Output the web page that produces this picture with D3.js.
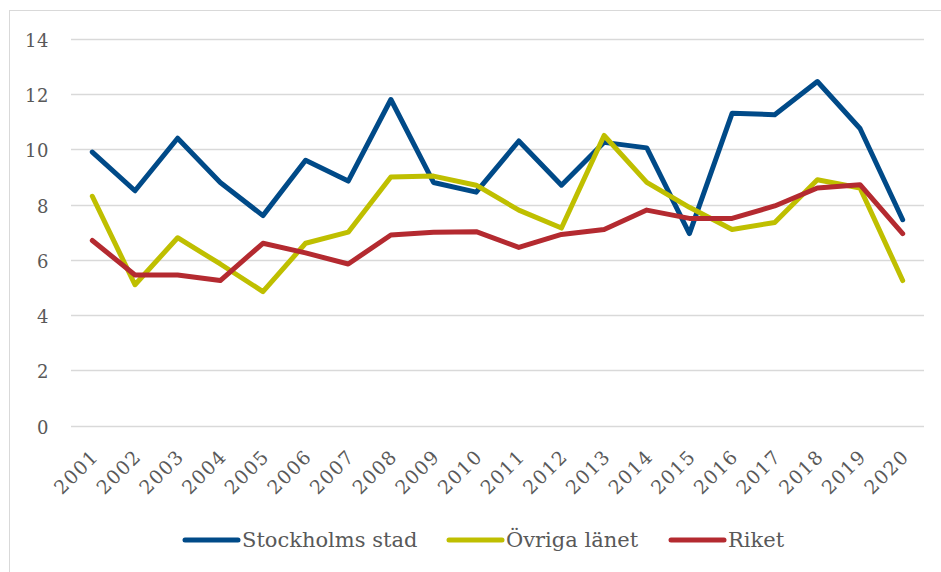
<!DOCTYPE html>
<html>
<head>
<meta charset="utf-8">
<script src="https://cdn.jsdelivr.net/npm/d3@7"></script>
<style>
  html, body { margin: 0; padding: 0; background: #fff; }
  svg { display: block; }
  text { font-family: Georgia, "DejaVu Serif", serif; fill: #595959; }
</style>
</head>
<body>
<svg id="chart" width="941" height="572"></svg>
<script>
const years = ["2001","2002","2003","2004","2005","2006","2007","2008","2009","2010",
               "2011","2012","2013","2014","2015","2016","2017","2018","2019","2020"];
const stockholmsStad = [9.9, 8.5, 10.4, 8.8, 7.6, 9.6, 8.85, 11.8, 8.8, 8.45,
                        10.3, 8.7, 10.25, 10.05, 6.95, 11.3, 11.25, 12.45, 10.75, 7.45];
const ovrigaLanet    = [8.3, 5.1, 6.8, 5.85, 4.85, 6.6, 7.0, 9.0, 9.03, 8.7,
                        7.8, 7.15, 10.5, 8.8, 7.9, 7.1, 7.35, 8.9, 8.6, 5.25];
const riket          = [6.7, 5.45, 5.45, 5.25, 6.6, 6.25, 5.85, 6.9, 7.0, 7.02,
                        6.45, 6.92, 7.1, 7.8, 7.5, 7.5, 7.95, 8.6, 8.72, 6.95];
const yTicks = [0, 2, 4, 6, 8, 10, 12, 14];
const seriesNames = ["Stockholms stad", "Övriga länet", "Riket"];
const seriesColors = ["#004a88", "#bfbf00", "#b42a30"];

const series = [stockholmsStad, ovrigaLanet, riket].map((values, i) => ({
  name: seriesNames[i], color: seriesColors[i], values
}));

const svg = d3.select("#chart");

// chart frame
svg.append("rect")
  .attr("x", 9.5).attr("y", 10.5)
  .attr("width", 960).attr("height", 600)
  .attr("fill", "none").attr("stroke", "#d9d9d9").attr("stroke-width", 1);

const plot = { left: 71, right: 924, top: 38.7, bottom: 425.7 };

const x = d3.scalePoint().domain(years)
  .range([plot.left, plot.right]).padding(0.5);
const y = d3.scaleLinear().domain([0, 14]).range([plot.bottom, plot.top]);

// horizontal gridlines
svg.append("g")
  .selectAll("line").data(yTicks).join("line")
  .attr("x1", plot.left).attr("x2", plot.right)
  .attr("y1", d => Math.round(y(d)) + 0.5).attr("y2", d => Math.round(y(d)) + 0.5)
  .attr("stroke", "#d9d9d9").attr("stroke-width", 1.3);

// y axis labels
const yAxis = d3.axisLeft(y).tickValues(yTicks).tickSize(0).tickPadding(0);
const gy = svg.append("g").attr("transform", `translate(${49},0)`).call(yAxis);
gy.select(".domain").remove();
gy.selectAll("text")
  .style("font-family", "Georgia, 'DejaVu Serif', serif")
  .style("font-size", "18px").style("fill", "#595959")
  .style("letter-spacing", "0.5px")
  .attr("dy", "0.42em");

// x axis labels, rotated
const xAxis = d3.axisBottom(x).tickSize(0).tickPadding(0);
const gx = svg.append("g").attr("transform", `translate(0,${plot.bottom})`).call(xAxis);
gx.select(".domain").remove();
gx.selectAll("text")
  .style("font-family", "Georgia, 'DejaVu Serif', serif")
  .style("font-size", "19px").style("fill", "#595959")
  .style("letter-spacing", "1.3px")
  .attr("text-anchor", "end")
  .attr("transform", "translate(7,32) rotate(-45)")
  .attr("x", 0).attr("y", 0).attr("dy", 0);

// series lines
const line = d3.line()
  .x((d, i) => x(years[i]))
  .y(d => y(d));

svg.append("g").selectAll("path").data(series).join("path")
  .attr("d", s => line(s.values))
  .attr("fill", "none")
  .attr("stroke", s => s.color)
  .attr("stroke-width", 5)
  .attr("stroke-linejoin", "round")
  .attr("stroke-linecap", "round");

// legend
const legendX = [185, 449, 671];
const legend = svg.append("g").selectAll("g").data(series).join("g")
  .attr("transform", (s, i) => `translate(${legendX[i]},540)`);
legend.append("line")
  .attr("x1", 0).attr("x2", 53).attr("y1", 0).attr("y2", 0)
  .attr("stroke", s => s.color).attr("stroke-width", 5).attr("stroke-linecap", "round");
legend.append("text")
  .attr("x", 57).attr("y", 0).attr("dy", "0.35em")
  .style("font-size", "21px")
  .text(s => s.name);
</script>
</body>
</html>
